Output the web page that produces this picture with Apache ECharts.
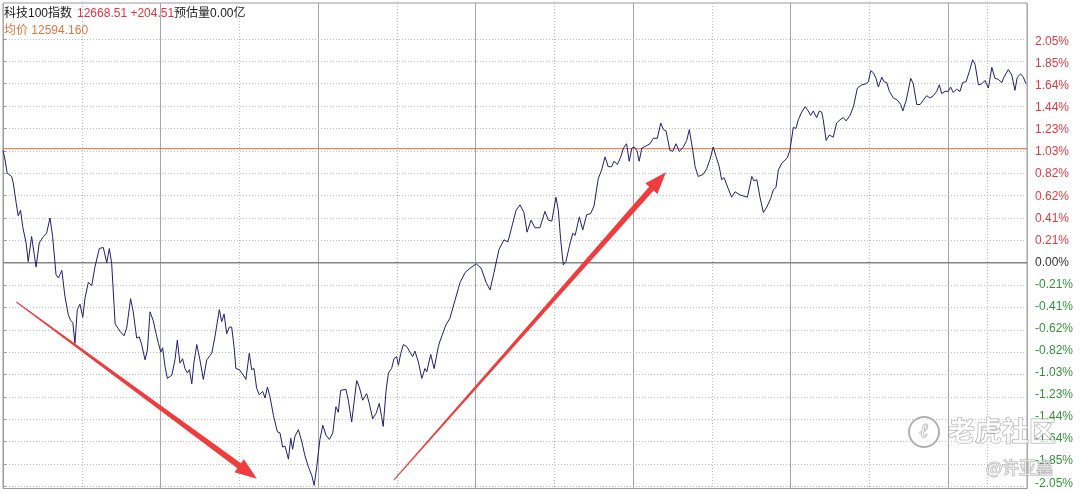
<!DOCTYPE html>
<html>
<head>
<meta charset="utf-8">
<script src="https://cdn.jsdelivr.net/npm/echarts@6/dist/echarts.min.js"></script>
<style>html,body{margin:0;padding:0;background:#fff;}#c{width:1080px;height:493px;}</style>
</head>
<body>
<div id="c"></div>
<script>
// ---- data ----
const indexName = '科技100指数';
const lastPrice = '12668.51';
const change = '+204.51';
const volumeLabel = '预估量0.00亿';
const avgLabel = '均价';
const avgPrice = '12594.160';
const sessionMinutes = 390;
// minutes since open
const times = [0,0.8,1.6,3.3,3.9,5.0,5.8,6.7,7.5,8.8,
9.6,10.9,12.6,13.8,15.4,16.6,17.9,18.9,20.2,21.1,
22.4,23.6,24.9,25.8,26.6,27.4,28.3,29.3,30.4,31.2,
32.5,33.8,35.0,36.7,38.2,39.5,40.5,41.4,42.7,44.6,
46.1,47.1,48.6,49.6,50.9,51.9,52.8,54.1,55.0,56.0,
57.2,58.3,59.2,60.1,60.8,61.7,62.6,64.3,65.5,66.4,
67.4,68.4,69.3,70.2,71.0,71.9,72.7,73.8,75.0,76.3,
77.6,79.5,80.7,82.4,83.3,84.2,85.2,86.2,87.1,88.0,
88.7,90.0,91.5,92.5,93.8,94.7,95.6,96.6,97.6,98.9,
99.8,100.7,101.7,103.0,104.5,105.5,106.5,107.4,108.7,109.6,
110.3,111.2,112.5,113.8,115.0,116.3,117.6,118.5,119.5,120.7,
121.8,123.0,124.3,125.6,126.8,127.7,128.6,130.6,131.5,132.8,
134.7,135.7,137.0,138.5,139.5,140.8,142.1,143.3,144.2,144.8,
145.9,146.8,148.0,148.9,149.9,150.6,151.5,152.5,153.8,155.0,
156.0,156.9,158.2,159.5,160.7,161.4,162.9,164.2,165.8,166.4,
168.7,170.2,172.2,174.1,176.0,177.9,180.2,182.1,184.0,185.5,
187.0,188.9,190.8,192.3,193.9,195.4,196.9,198.4,199.6,201.1,
202.6,204.5,206.4,207.7,209.0,210.6,211.5,212.4,213.4,214.4,
215.7,217.0,217.9,219.5,220.8,222.3,223.8,225.1,226.7,228.0,
229.3,230.5,231.8,232.7,234.0,235.3,236.3,237.5,238.5,239.5,
240.4,241.4,242.3,243.3,244.9,246.4,247.7,249.2,250.5,251.5,
252.5,254.0,255.1,256.3,257.6,259.1,260.4,261.4,262.7,263.6,
264.8,266.7,268.0,269.3,270.5,271.6,272.8,273.7,274.6,276.2,
277.5,278.8,280.7,282.2,283.5,285.2,286.0,287.1,288.3,289.6,
290.9,292.4,293.4,294.4,295.3,296.6,297.8,298.7,299.7,301.0,
302.0,302.9,304.2,305.5,306.7,307.6,308.6,309.9,310.9,311.8,
312.4,313.5,314.7,316.2,317.5,318.8,320.0,321.1,322.6,323.9,
325.4,327.1,328.7,329.6,330.5,331.5,332.5,333.4,334.7,335.5,
336.6,337.6,339.1,340.6,341.9,342.7,343.9,344.8,345.7,346.7,
348.0,349.3,350.5,351.8,353.1,354.3,355.6,356.6,357.5,358.8,
360.0,360.9,361.9,363.2,364.5,365.5,366.8,368.0,369.3,370.2,
371.5,372.8,374.0,375.3,376.6,377.8,379.1,380.4,381.2,382.9,
384.2,385.4,386.3,387.6,388.6,389.6];
// change in percent
const pcts = [1.03,0.94,0.82,0.79,0.73,0.55,0.43,0.48,0.33,0.18,
0.01,0.24,-0.04,0.18,0.24,0.27,0.41,0.24,-0.11,-0.14,
-0.07,-0.31,-0.48,-0.53,-0.55,-0.74,-0.43,-0.38,-0.50,-0.33,
-0.18,-0.21,-0.04,0.13,0.14,0.00,0.13,-0.01,-0.56,-0.63,
-0.67,-0.60,-0.33,-0.45,-0.69,-0.68,-0.75,-0.89,-0.80,-0.45,
-0.53,-0.65,-0.74,-0.82,-0.78,-0.95,-1.06,-1.03,-0.89,-0.71,
-0.92,-0.88,-0.97,-1.01,-0.98,-1.11,-0.92,-0.75,-0.89,-1.07,
-0.89,-0.83,-0.68,-0.43,-0.54,-0.47,-0.65,-0.59,-0.59,-0.77,
-0.97,-0.98,-1.03,-1.07,-0.83,-0.98,-0.97,-1.15,-1.21,-1.18,
-1.24,-1.14,-1.23,-1.40,-1.55,-1.56,-1.69,-1.68,-1.80,-1.61,
-1.71,-1.59,-1.53,-1.64,-1.77,-1.87,-1.95,-2.04,-1.87,-1.62,
-1.49,-1.58,-1.62,-1.56,-1.32,-1.37,-1.17,-1.16,-1.26,-1.46,
-1.08,-1.14,-1.26,-1.20,-1.29,-1.43,-1.38,-1.29,-1.41,-1.50,
-1.17,-1.01,-0.97,-0.88,-0.86,-0.94,-0.83,-0.75,-0.77,-0.82,
-0.86,-0.81,-0.91,-1.06,-0.97,-1.00,-0.84,-0.97,-0.77,-0.72,
-0.57,-0.51,-0.34,-0.18,-0.09,-0.05,-0.01,-0.05,-0.18,-0.25,
-0.09,0.12,0.21,0.19,0.34,0.48,0.53,0.46,0.28,0.39,
0.32,0.32,0.47,0.39,0.38,0.60,0.48,0.21,-0.02,0.01,
0.15,0.27,0.25,0.42,0.30,0.44,0.45,0.52,0.77,0.85,
0.97,0.88,0.88,0.93,0.90,0.97,1.05,1.09,0.93,1.05,
1.06,1.03,0.93,1.05,1.07,1.09,1.14,1.14,1.28,1.22,
1.21,1.03,1.02,1.09,1.02,1.06,1.12,1.22,1.03,0.88,
0.79,0.81,0.86,0.95,1.06,0.97,0.88,0.76,0.78,0.68,
0.60,0.65,0.62,0.61,0.60,0.79,0.75,0.76,0.60,0.46,
0.51,0.59,0.67,0.69,0.85,0.91,0.94,0.96,1.03,1.24,
1.23,1.31,1.38,1.43,1.39,1.35,1.39,1.33,1.39,1.38,
1.31,1.12,1.17,1.15,1.28,1.31,1.33,1.30,1.35,1.43,
1.60,1.63,1.64,1.66,1.76,1.74,1.69,1.61,1.70,1.66,
1.65,1.57,1.51,1.49,1.45,1.39,1.48,1.58,1.69,1.64,
1.45,1.45,1.49,1.53,1.51,1.53,1.57,1.63,1.55,1.57,
1.57,1.61,1.56,1.59,1.57,1.65,1.66,1.75,1.86,1.82,
1.63,1.64,1.67,1.60,1.79,1.69,1.68,1.65,1.70,1.77,
1.72,1.58,1.70,1.73,1.70,1.64];
const tickLabels = ['-2.05%','-1.85%','-1.64%','-1.44%','-1.23%','-1.03%','-0.82%','-0.62%','-0.41%','-0.21%','0.00%',
  '0.21%','0.41%','0.62%','0.82%','1.03%','1.23%','1.44%','1.64%','1.85%','2.05%'];
// annotation arrows: [startMinute, startPct, endMinute, endPct]
const arrows = [[5.1,-0.36,96.7,-1.98],[148.9,-1.99,252.5,0.83]];
const watermark = '老虎社区';
const author = '@许亚鑫';

// ---- derived ----
const prevClose = parseFloat(lastPrice) - parseFloat(change);
const avgPct = (parseFloat(avgPrice) / prevClose - 1) * 100;
const lineData = times.map((t, i) => [t, pcts[i]]);
const avgLine = [[0, avgPct], [sessionMinutes, avgPct]];
const zeroLine = [[0, 0], [sessionMinutes, 0]];

const chart = echarts.init(document.getElementById('c'), null, {renderer: 'canvas'});
const FONT = '"Liberation Sans","Noto Sans CJK SC",sans-serif';
const dot = [1, 2];
const labelFmt = function (v) {
  const i = Math.round((v + 2.05) / 0.205);
  const s = tickLabels[i];
  const k = i > 10 ? 'u' : (i < 10 ? 'd' : 'z');
  return '{' + k + '|' + s + '}';
};

chart.setOption({
  animation: false,
  backgroundColor: '#ffffff',
  title: {
    left: 4, top: 5, padding: 0,
    text: '{k|' + indexName + '} {r|' + lastPrice + ' ' + change + '}{k|' + volumeLabel + '}\n{o|' + avgLabel + ' ' + avgPrice + '}',
    textStyle: {
      fontWeight: 'normal',
      rich: {
        k: {color: '#1a1a1a', fontSize: 12, fontWeight: 'normal', fontFamily: FONT, lineHeight: 15},
        r: {color: '#e8333c', fontSize: 12, fontWeight: 'normal', fontFamily: FONT, lineHeight: 15},
        o: {color: '#e2783e', fontSize: 12, fontWeight: 'normal', fontFamily: FONT, lineHeight: 15}
      }
    }
  },
  grid: [
    {left: 3, right: 53, top: 39, bottom: 6.6, show: false},
    {left: 3, right: 53, top: 3, bottom: 4.5, show: true, borderColor: '#9a9a9a', borderWidth: 1, backgroundColor: 'transparent', z: 0},
    {left: 3, right: 53, top: 41.7, bottom: 9.8, show: false}
  ],
  xAxis: [
    {gridIndex: 0, type: 'value', min: 0, max: sessionMinutes, show: false},
    {gridIndex: 1, type: 'value', min: 0, max: sessionMinutes, interval: 30,
      axisLine: {show: false}, axisTick: {show: false}, axisLabel: {show: false},
      splitLine: {show: true, lineStyle: {color: '#b8b8b8', type: dot, width: 1}}},
    {gridIndex: 1, type: 'value', min: 0, max: sessionMinutes, interval: 60,
      axisLine: {show: false}, axisTick: {show: false}, axisLabel: {show: false},
      splitLine: {show: true, lineStyle: {color: '#a6a6a6', type: 'solid', width: 1}}},
    {gridIndex: 1, type: 'value', min: 0, max: sessionMinutes, interval: 375,
      axisLine: {show: false}, axisTick: {show: false}, axisLabel: {show: false},
      splitLine: {show: true, lineStyle: {color: '#b8b8b8', type: dot, width: 1}}},
    {gridIndex: 2, type: 'value', min: 0, max: sessionMinutes, show: false}
  ],
  yAxis: [
    {gridIndex: 0, type: 'value', position: 'right', min: -2.05, max: 2.05, interval: 0.205,
      axisLine: {show: true, lineStyle: {color: '#9a9a9a'}},
      axisTick: {show: true, length: 3, lineStyle: {color: '#9a9a9a'}},
      splitLine: {show: true, lineStyle: {color: '#bdbdbd', type: dot, width: 1}},
      axisLabel: {show: false}},
    {gridIndex: 1, type: 'value', min: 0, max: 1, show: false},
    {gridIndex: 2, type: 'value', position: 'right', min: -2.05, max: 2.05, interval: 0.205,
      axisLine: {show: false}, axisTick: {show: false}, splitLine: {show: false},
      axisLabel: {
        margin: 8,
        formatter: labelFmt,
        rich: {
          u: {color: '#e23a43', fontSize: 12, fontFamily: FONT},
          d: {color: '#35923a', fontSize: 12, fontFamily: FONT},
          z: {color: '#333333', fontSize: 12, fontFamily: FONT}
        }
      }}
  ],
  series: [
    {
      type: 'line', xAxisIndex: 0, yAxisIndex: 0, data: zeroLine, silent: true,
      showSymbol: false, symbol: 'none', z: 3,
      lineStyle: {color: '#858585', width: 1.6, type: 'solid'}
    },
    {
      type: 'line', xAxisIndex: 0, yAxisIndex: 0, data: avgLine, silent: true,
      showSymbol: false, symbol: 'none', z: 3,
      lineStyle: {color: '#e4692e', width: 1, type: 'solid'}
    },
    {
      type: 'line', xAxisIndex: 0, yAxisIndex: 0, data: lineData,
      showSymbol: false, symbol: 'none', clip: false,
      lineStyle: {color: '#1f1f78', width: 1},
      z: 5
    },
    {
      type: 'custom', xAxisIndex: 0, yAxisIndex: 0, data: arrows, z: 10, silent: true,
      renderItem: function (params, api) {
        const a = api.coord([api.value(0), api.value(1)]);
        const b = api.coord([api.value(2), api.value(3)]);
        const dx = b[0] - a[0], dy = b[1] - a[1];
        const L = Math.hypot(dx, dy);
        const ux = dx / L, uy = dy / L, nx = -uy, ny = ux;
        const headLen = 22, headW = 8, w0 = 0.5, w1 = 3;
        const bx = b[0] - ux * headLen, by = b[1] - uy * headLen;
        const pts = [
          [a[0] + nx * w0, a[1] + ny * w0],
          [bx + nx * w1, by + ny * w1],
          [bx + nx * headW, by + ny * headW],
          [b[0], b[1]],
          [bx - nx * headW, by - ny * headW],
          [bx - nx * w1, by - ny * w1],
          [a[0] - nx * w0, a[1] - ny * w0]
        ];
        return {type: 'polygon', shape: {points: pts}, style: {fill: '#f03c3c'}};
      }
    }
  ],
  graphic: [
    {type: 'circle', z: 100, shape: {cx: 924, cy: 432, r: 15},
      style: {fill: 'rgba(255,255,255,0.55)', stroke: 'rgba(150,150,150,0.75)', lineWidth: 2}},
    {type: 'text', z: 100, x: 924, y: 432,
      style: {text: 'ℓ', font: 'italic bold 20px "DejaVu Serif"', fill: 'rgba(255,255,255,0.7)', stroke: 'rgba(150,150,150,0.8)', lineWidth: 1, align: 'center', verticalAlign: 'middle'}},
    {type: 'text', z: 100, x: 948, y: 431,
      style: {text: watermark, font: 'bold 27px "Noto Sans CJK SC"', fill: 'rgba(255,255,255,0.72)', stroke: 'rgba(140,140,140,0.75)', lineWidth: 1, align: 'left', verticalAlign: 'middle'}},
    {type: 'text', z: 100, x: 986, y: 468,
      style: {text: author, font: '17px "Noto Sans CJK SC"', fill: 'rgba(255,255,255,0.72)', stroke: 'rgba(140,140,140,0.75)', lineWidth: 1, align: 'left', verticalAlign: 'middle'}}
  ]
});
</script>
</body>
</html>
